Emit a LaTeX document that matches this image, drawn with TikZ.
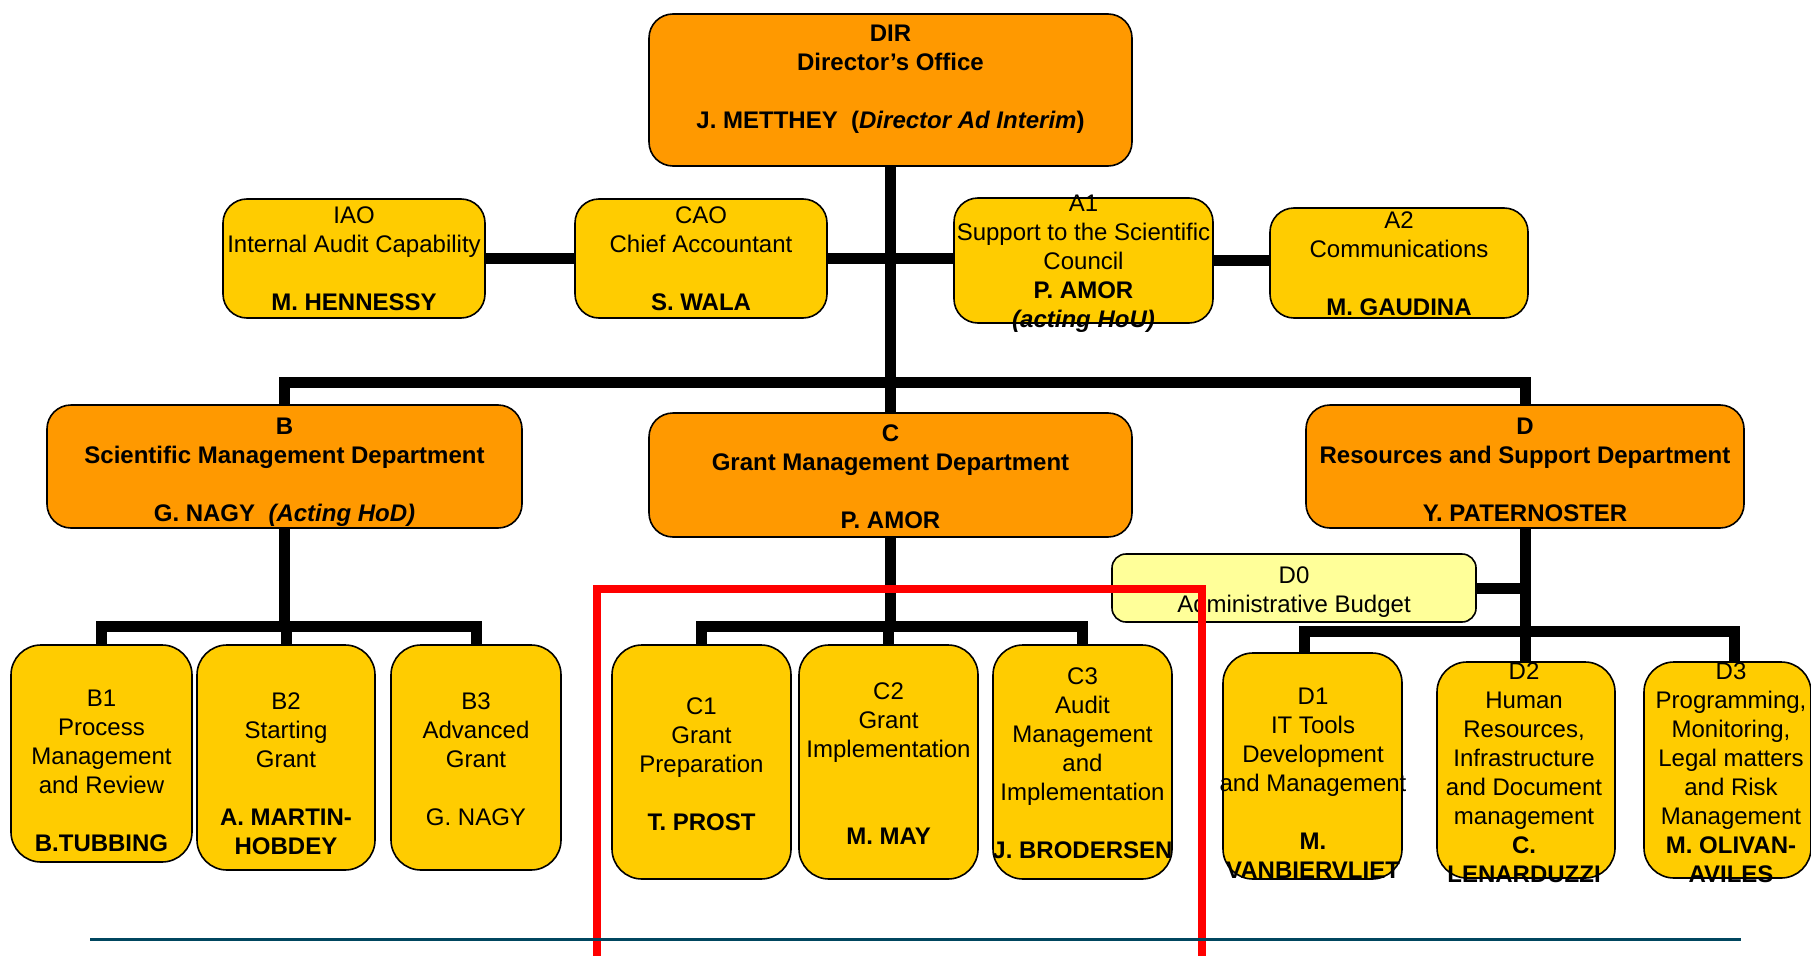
\documentclass[tikz,border=0pt]{standalone}
\usepackage{fontspec}
\setmainfont{Liberation Sans}
\usetikzlibrary{backgrounds}
\definecolor{deptorange}{RGB}{255,153,0}
\definecolor{unityellow}{RGB}{255,204,0}
\definecolor{budgetyellow}{RGB}{255,255,153}
\definecolor{footteal}{RGB}{0,70,95}
\tikzset{
  orgbox/.style={draw=black, line width=1.6pt, inner sep=0pt, outer sep=0pt},
  deptbox/.style={orgbox, fill=deptorange, rounded corners=24pt},
  unitbox/.style={orgbox, fill=unityellow, rounded corners=24pt},
  tallbox/.style={orgbox, fill=unityellow, rounded corners=30pt},
  budgetbox/.style={orgbox, fill=budgetyellow, rounded corners=14pt},
  lbl/.style={anchor=north, align=center, inner sep=0pt, font=\fontsize{24}{28.9}\selectfont},
  conn/.style={line width=11pt, draw=black, line join=miter},
  redframe/.style={draw=red, line width=8pt},
  footline/.style={draw=footteal, line width=3pt}
}
\begin{document}
\begin{tikzpicture}[x=1pt, y=-1pt]
\useasboundingbox (0,0) rectangle (1811,955);
% boxes
\node[deptbox, minimum width=483pt, minimum height=152pt] (DIR) at (890.5,90) {};
\node[unitbox, minimum width=262pt, minimum height=119pt] (IAO) at (354,258.5) {};
\node[unitbox, minimum width=252pt, minimum height=119pt] (CAO) at (701,258.5) {};
\node[unitbox, minimum width=259pt, minimum height=125pt] (A1) at (1083.5,260.5) {};
\node[unitbox, minimum width=258pt, minimum height=110pt] (A2) at (1399,263) {};
\node[deptbox, minimum width=475pt, minimum height=123pt] (B) at (284.5,466.5) {};
\node[deptbox, minimum width=483pt, minimum height=124pt] (C) at (890.5,475) {};
\node[deptbox, minimum width=438pt, minimum height=123pt] (D) at (1525,466.5) {};
\node[budgetbox, minimum width=364pt, minimum height=68pt] (D0) at (1294,588) {};
\node[tallbox, minimum width=181pt, minimum height=217pt] (B1) at (101.5,753.5) {};
\node[tallbox, minimum width=178pt, minimum height=225pt] (B2) at (286,757.5) {};
\node[tallbox, minimum width=170pt, minimum height=225pt] (B3) at (476,757.5) {};
\node[tallbox, minimum width=179pt, minimum height=234pt] (C1) at (701.5,762) {};
\node[tallbox, minimum width=179pt, minimum height=234pt] (C2) at (888.5,762) {};
\node[tallbox, minimum width=179pt, minimum height=234pt] (C3) at (1082.5,762) {};
\node[tallbox, minimum width=179pt, minimum height=226pt] (D1) at (1312.5,766) {};
\node[tallbox, minimum width=178pt, minimum height=216pt] (D2) at (1526,770) {};
\node[tallbox, minimum width=167pt, minimum height=216pt] (D3) at (1727.5,770) {};
% helper coordinates
\coordinate (mainbar) at (0,382);
\coordinate (bbar) at (0,626);
\coordinate (cbar) at (0,626);
\coordinate (dbar) at (0,631);
\coordinate (d1top) at ([xshift=-8.5pt]D1.north);
\coordinate (d3top) at ([xshift=6.5pt]D3.north);
% connectors
\begin{scope}[on background layer]
\draw[conn] (DIR.south) -- (C.north);
\draw[conn] (IAO) -- (CAO);
\draw[conn] (CAO) -- (CAO -| A1);
\draw[conn] (A1) -- (A1 -| A2);
\draw[conn] (B.north) -- (B.north |- mainbar) -- (D.north |- mainbar) -- (D.north);
\draw[conn] (B.south) -- (B.south |- bbar);
\draw[conn] (B1.north) -- (B1.north |- bbar) -- (B3.north |- bbar) -- (B3.north);
\draw[conn] (B2.north) -- (B2.north |- bbar);
\draw[conn] (C.south) -- (C.south |- cbar);
\draw[conn] (C1.north) -- (C1.north |- cbar) -- (C3.north |- cbar) -- (C3.north);
\draw[conn] (C2.north) -- (C2.north |- cbar);
\draw[conn] (D.south) -- (D.south |- D2.north);
\draw[conn] (D0) -- (D0 -| D.south);
\draw[conn] (d1top) -- (d1top |- dbar) -- (d3top |- dbar) -- (d3top);
\end{scope}
% texts
\node[lbl] (DIRt) at (890.5,25) {\textbf{DIR}\\\textbf{Director’s Office}\\[28.9pt]\textbf{J. METTHEY\ \ (\textit{Director Ad Interim})}};
\node[lbl] (IAOt) at (354,207) {IAO\\Internal Audit Capability\\[28.9pt]\textbf{M. HENNESSY}};
\node[lbl] (CAOt) at (701,207) {CAO\\Chief Accountant\\[28.9pt]\textbf{S. WALA}};
\node[lbl] (A1t) at (1083.5,195) {A1\\Support to the Scientific\\Council\\\textbf{P. AMOR}\\\textbf{\textit{(acting HoU)}}};
\node[lbl] (A2t) at (1399,212) {A2\\Communications\\[28.9pt]\textbf{M. GAUDINA}};
\node[lbl] (Bt) at (284.5,418) {\textbf{B}\\\textbf{Scientific Management Department}\\[28.9pt]\textbf{G. NAGY\ \ \textit{(Acting HoD)}}};
\node[lbl] (Ct) at (890.5,425) {\textbf{C}\\\textbf{Grant Management Department}\\[28.9pt]\textbf{P. AMOR}};
\node[lbl] (Dt) at (1525,418) {\textbf{D}\\\textbf{Resources and Support Department}\\[28.9pt]\textbf{Y. PATERNOSTER}};
\node[lbl] (D0t) at (1294,567) {D0\\Administrative Budget};
\node[lbl] (B1t) at (101.5,690) {B1\\Process\\Management\\and Review\\[28.9pt]\textbf{B.TUBBING}};
\node[lbl] (B2t) at (286,693) {B2\\Starting\\Grant\\[28.9pt]\textbf{A. MARTIN-}\\\textbf{HOBDEY}};
\node[lbl] (B3t) at (476,693) {B3\\Advanced\\Grant\\[28.9pt]G. NAGY};
\node[lbl] (C1t) at (701.5,698) {C1\\Grant\\Preparation\\[28.9pt]\textbf{T. PROST}};
\node[lbl] (C2t) at (888.5,683) {C2\\Grant\\Implementation\\[57.8pt]\textbf{M. MAY}};
\node[lbl] (C3t) at (1082.5,668) {C3\\Audit\\Management\\and\\Implementation\\[28.9pt]\textbf{J. BRODERSEN}};
\node[lbl] (D1t) at (1313,688) {D1\\IT Tools\\Development\\and Management\\[28.9pt]\textbf{M.}\\\textbf{VANBIERVLIET}};
\node[lbl] (D2t) at (1524,663) {D2\\Human\\Resources,\\Infrastructure\\and Document\\management\\\textbf{C.}\\\textbf{LENARDUZZI}};
\node[lbl] (D3t) at (1731,663) {D3\\Programming,\\Monitoring,\\Legal matters\\and Risk\\Management\\\textbf{M. OLIVAN-}\\\textbf{AVILES}};
% highlight frame and footer rule
\coordinate (redTL) at (597,589);
\coordinate (redBR) at (1202,962);
\draw[redframe] (redTL) rectangle (redBR);
\coordinate (footL) at (90,939);
\coordinate (footR) at (1741,939);
\draw[footline] (footL) -- (footR);
\end{tikzpicture}
\end{document}
